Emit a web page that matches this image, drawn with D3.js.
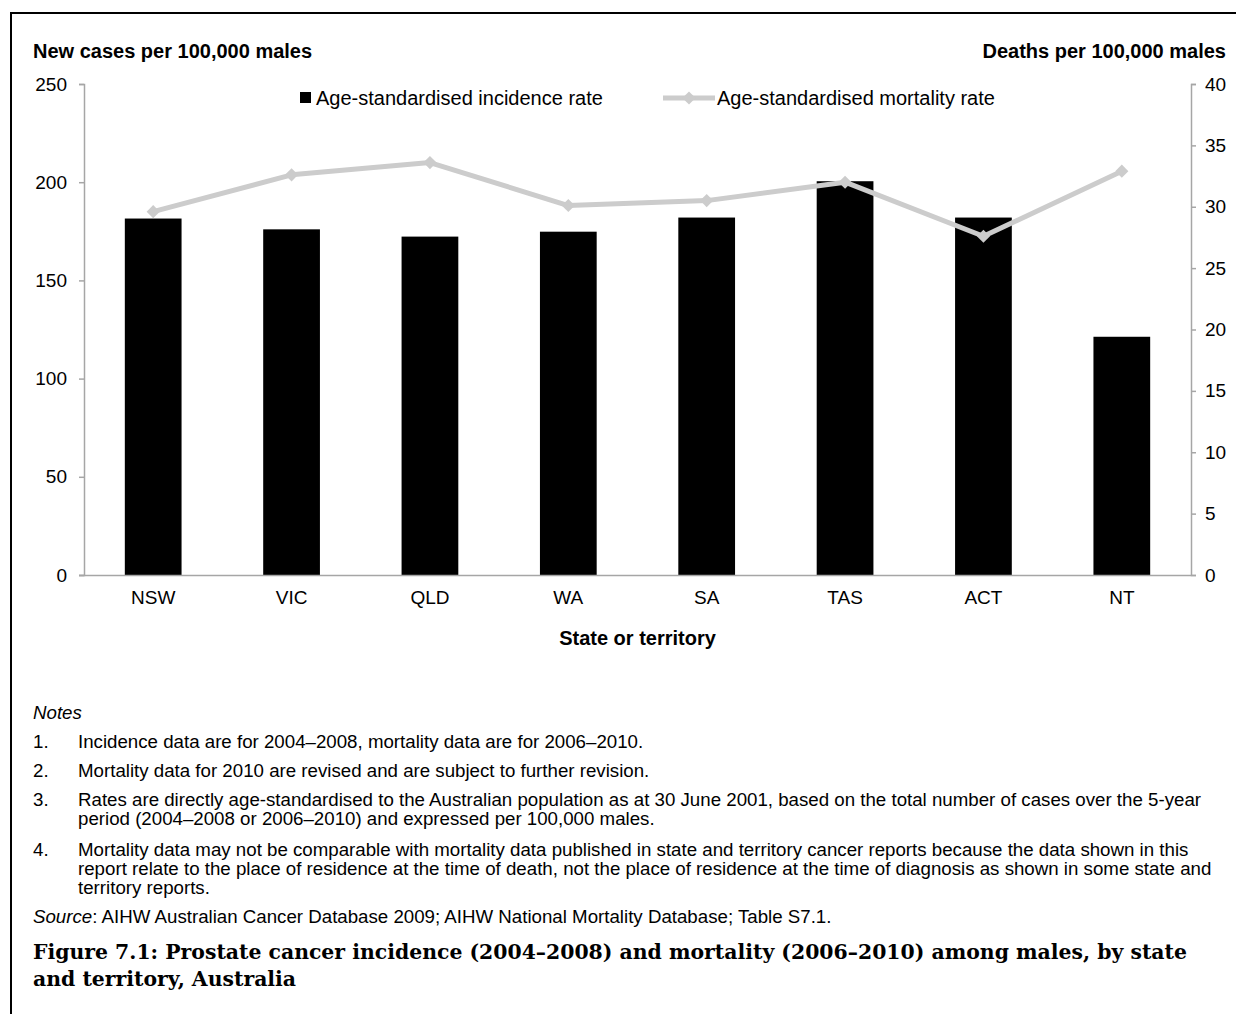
<!DOCTYPE html>
<html><head><meta charset="utf-8">
<script src="https://cdn.jsdelivr.net/npm/d3@7"></script>
<style>html,body{margin:0;padding:0;background:#fff;}svg{display:block;}</style>
</head><body>
<script>
const categories = ["NSW","VIC","QLD","WA","SA","TAS","ACT","NT"];
const incidence = [181.5, 176, 172.3, 174.8, 182, 200.5, 182, 121.3];
const mortality = [29.6, 32.6, 33.6, 30.1, 30.5, 32.0, 27.6, 32.9];
const leftTicks = [0,50,100,150,200,250];
const rightTicks = [0,5,10,15,20,25,30,35,40];
const notes = [
  ["1.", ["Incidence data are for 2004–2008, mortality data are for 2006–2010."]],
  ["2.", ["Mortality data for 2010 are revised and are subject to further revision."]],
  ["3.", ["Rates are directly age-standardised to the Australian population as at 30 June 2001, based on the total number of cases over the 5-year",
          "period (2004–2008 or 2006–2010) and expressed per 100,000 males."]],
  ["4.", ["Mortality data may not be comparable with mortality data published in state and territory cancer reports because the data shown in this",
          "report relate to the place of residence at the time of death, not the place of residence at the time of diagnosis as shown in some state and",
          "territory reports."]]
];
const captionLines = ["Figure 7.1: Prostate cancer incidence (2004–2008) and mortality (2006–2010) among males, by state",
                      "and territory, Australia"];

const W = 1236, H = 1014;
const sans = "'Liberation Sans', Arial, sans-serif";
const svg = d3.select("body").append("svg").attr("width", W).attr("height", H);

// frame
svg.append("rect").attr("x", 11).attr("y", 13).attr("width", W + 20).attr("height", H + 20)
  .attr("fill", "none").attr("stroke", "#000").attr("stroke-width", 2);

const x0 = 84, x1 = 1191, yTop = 84, yBot = 575;
const x = d3.scaleBand().domain(categories).range([x0, x1]).paddingInner(0.59).paddingOuter(0.295);
const yL = d3.scaleLinear().domain([0, 250]).range([yBot, yTop]);
const yR = d3.scaleLinear().domain([0, 40]).range([yBot, yTop]);
const axisColor = "#a6a6a6";

// bars
svg.append("g").selectAll("rect").data(categories).join("rect")
  .attr("x", d => x(d)).attr("width", x.bandwidth())
  .attr("y", (d, i) => yL(incidence[i])).attr("height", (d, i) => yBot - yL(incidence[i]))
  .attr("fill", "#000");

// axes
const gL = svg.append("g").attr("transform", `translate(${x0},0)`)
  .call(d3.axisLeft(yL).tickValues(leftTicks).tickSize(5).tickPadding(12));
const gR = svg.append("g").attr("transform", `translate(${x1},0)`)
  .call(d3.axisRight(yR).tickValues(rightTicks).tickSize(5).tickPadding(9));
const gB = svg.append("g").attr("transform", `translate(0,${yBot})`)
  .call(d3.axisBottom(x).tickSize(0).tickPadding(16).tickSizeOuter(0));
gB.select(".domain").attr("d", `M${x0 - 5},0.5H${x1}`);
[gL, gR, gB].forEach(g => {
  g.select(".domain").attr("stroke", axisColor).attr("stroke-width", 1.5);
  g.selectAll(".tick line").attr("stroke", axisColor).attr("stroke-width", 1.5);
  g.selectAll(".tick text").attr("fill", "#000").attr("font-family", sans).attr("font-size", 19);
});

// mortality line
const lineGen = d3.line().x((d, i) => x(categories[i]) + x.bandwidth() / 2).y(d => yR(d));
svg.append("path").datum(mortality).attr("d", lineGen)
  .attr("fill", "none").attr("stroke", "#cccccc").attr("stroke-width", 5).attr("stroke-linejoin", "round");
const diamond = d3.symbol().type(d3.symbolDiamond2).size(110);
svg.append("g").selectAll("path").data(mortality).join("path")
  .attr("d", diamond)
  .attr("transform", (d, i) => `translate(${x(categories[i]) + x.bandwidth() / 2},${yR(d)})`)
  .attr("fill", "#cccccc");

// axis titles
svg.append("text").attr("x", 33).attr("y", 58).attr("font-family", sans).attr("font-weight", "bold")
  .attr("font-size", 20).text("New cases per 100,000 males");
svg.append("text").attr("x", 1226).attr("y", 58).attr("text-anchor", "end").attr("font-family", sans)
  .attr("font-weight", "bold").attr("font-size", 20).text("Deaths per 100,000 males");
svg.append("text").attr("x", (x0 + x1) / 2).attr("y", 645).attr("text-anchor", "middle").attr("font-family", sans)
  .attr("font-weight", "bold").attr("font-size", 20).text("State or territory");

// legend
const lg = svg.append("g");
lg.append("rect").attr("x", 300).attr("y", 92).attr("width", 11).attr("height", 11).attr("fill", "#000");
lg.append("text").attr("x", 316).attr("y", 105).attr("font-family", sans).attr("font-size", 20).text("Age-standardised incidence rate");
lg.append("line").attr("x1", 663).attr("x2", 715).attr("y1", 98).attr("y2", 98).attr("stroke", "#cccccc").attr("stroke-width", 5);
lg.append("path").attr("d", diamond).attr("transform", "translate(689,98)").attr("fill", "#cccccc");
lg.append("text").attr("x", 717).attr("y", 105).attr("font-family", sans).attr("font-size", 20).text("Age-standardised mortality rate");

// notes
const nfs = 18.7;
svg.append("text").attr("x", 33).attr("y", 719).attr("font-family", sans).attr("font-size", nfs)
  .attr("font-style", "italic").text("Notes");
const noteY = [748, 777, 806, 856];
const lh = 19;
notes.forEach(([num, lines], i) => {
  svg.append("text").attr("x", 33).attr("y", noteY[i]).attr("font-family", sans).attr("font-size", nfs).text(num);
  lines.forEach((l, j) => {
    svg.append("text").attr("x", 78).attr("y", noteY[i] + j * lh).attr("font-family", sans).attr("font-size", nfs).text(l);
  });
});
const src = svg.append("text").attr("x", 33).attr("y", 923).attr("font-family", sans).attr("font-size", nfs);
src.append("tspan").attr("font-style", "italic").text("Source");
src.append("tspan").text(": AIHW Australian Cancer Database 2009; AIHW National Mortality Database; Table S7.1.");

// caption
captionLines.forEach((l, i) => {
  svg.append("text").attr("x", 33).attr("y", 959 + i * 27).attr("font-family", "'DejaVu Serif', serif")
    .attr("font-weight", "bold").attr("font-size", 20.4).text(l);
});
</script>
</body></html>
